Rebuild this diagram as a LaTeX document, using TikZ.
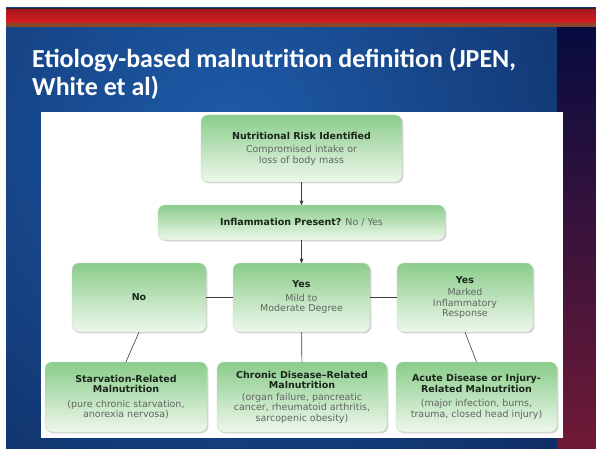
\documentclass[tikz,border=0pt]{standalone}
\usepackage{fontspec}
\usepackage{tikz}
\usetikzlibrary{arrows,positioning,shadows}
\setmainfont{DejaVu Sans}
\newfontfamily\titlefont{Carlito}
\definecolor{slide_blue}{RGB}{30,92,170}
\definecolor{slide_navy}{RGB}{8,24,68}
\definecolor{strip_navy}{RGB}{6,12,64}
\definecolor{strip_maroon}{RGB}{112,26,54}
\definecolor{band_red}{RGB}{212,30,36}
\definecolor{band_brown}{RGB}{138,72,42}
\definecolor{box_top}{RGB}{138,204,138}
\definecolor{box_bottom}{RGB}{238,248,236}
\definecolor{box_edge}{RGB}{196,220,196}
\definecolor{head_text}{RGB}{26,38,26}
\definecolor{body_text}{RGB}{98,102,98}
\definecolor{link_gray}{RGB}{60,60,60}
\tikzset{
  flowbox/.style = {draw=box_edge, rounded corners=7pt, top color=box_top,
  bottom color=box_bottom, align=center, inner sep=2pt, text=body_text,
  font=\fontsize{9.5}{10.5}\selectfont,
  drop shadow={shadow xshift=1.3pt, shadow yshift=-1.3pt, opacity=0.35}},
  titleline/.style = {anchor=base west, inner sep=0pt, white,
  font=\titlefont\bfseries\fontsize{26}{28}\selectfont}
}
\newcommand{\hd}[1]{{\bfseries\color{head_text}#1}}

\begin{document}
\begin{tikzpicture}[x=1pt,y=-1pt,->,>=stealth',
        link/.style={draw=link_gray, line width=0.6pt},
        plain/.style={link, -}]
  \useasboundingbox (0,0) rectangle (596,449);
  % slide background
  \fill[white] (0,0) rectangle (596,449);
  \begin{scope}
    \clip (6,8) rectangle (596,449);
    \shade[inner color=slide_blue, outer color=slide_navy] (230,140) circle (660pt);
  \end{scope}
  \shade[top color=strip_navy, middle color=strip_navy, bottom color=strip_maroon]
    (557,27) rectangle (596,449);
  \fill[black!85] (6,8) rectangle (596,10);
  \shade[top color=band_red!80!black, bottom color=band_red] (6,10) rectangle (596,23);
  \fill[band_brown] (6,23) rectangle (596,27);
  \node[titleline] (title1) at (32,68) {Etiology-based malnutrition definition (JPEN,};
  \node[titleline] (title2) at (32,96) {White et al)};
  \fill[white] (41,112) rectangle (563,438);
  % flow chart
  \node[flowbox, minimum width=201pt, minimum height=67pt] (risk) at (301.5,148.5)
    {\hd{Nutritional Risk Identified}\\[3pt] Compromised intake or\\ loss of body mass};
  \node[flowbox, minimum width=287pt, minimum height=35pt] (inflam) at (301.5,222.5)
    {\hd{Inflammation Present?} No / Yes};
  \node[flowbox, minimum width=134pt, minimum height=69pt] (no) at (139,297.5)
    {\hd{No}};
  \node[flowbox, minimum width=137pt, minimum height=69pt] (mild) at (301.5,297.5)
    {\hd{Yes}\\[3pt] Mild to\\ Moderate Degree};
  \node[flowbox, minimum width=136pt, minimum height=69pt] (marked) at (465,297.5)
    {\hd{Yes}\\[2pt] Marked\\ Inflammatory\\ Response};
  \node[flowbox, minimum width=162pt, minimum height=70pt] (starv) at (126,397)
    {\hd{Starvation-Related}\\ \hd{Malnutrition}\\[4pt] (pure chronic starvation,\\ anorexia nervosa)};
  \node[flowbox, minimum width=170pt, minimum height=70pt] (chronic) at (302,397)
    {\hd{Chronic Disease–Related}\\ \hd{Malnutrition}\\[1pt] (organ failure, pancreatic\\ cancer, rheumatoid arthritis,\\ sarcopenic obesity)};
  \node[flowbox, minimum width=161pt, minimum height=70pt] (acute) at (476.5,397)
    {\hd{Acute Disease or Injury-}\\ \hd{Related Malnutrition}\\[4pt] (major infection, burns,\\ trauma, closed head injury)};
  % links
  \draw[link] (risk) -- (inflam);
  \draw[link] (inflam) -- (mild);
  \draw[plain] (no) -- (mild);
  \draw[plain] (mild) -- (marked);
  \draw[plain] (no.south) -- (starv.north);
  \draw[plain] (mild) -- (chronic);
  \draw[plain] (marked.south) -- (acute.north);
\end{tikzpicture}
\end{document}
